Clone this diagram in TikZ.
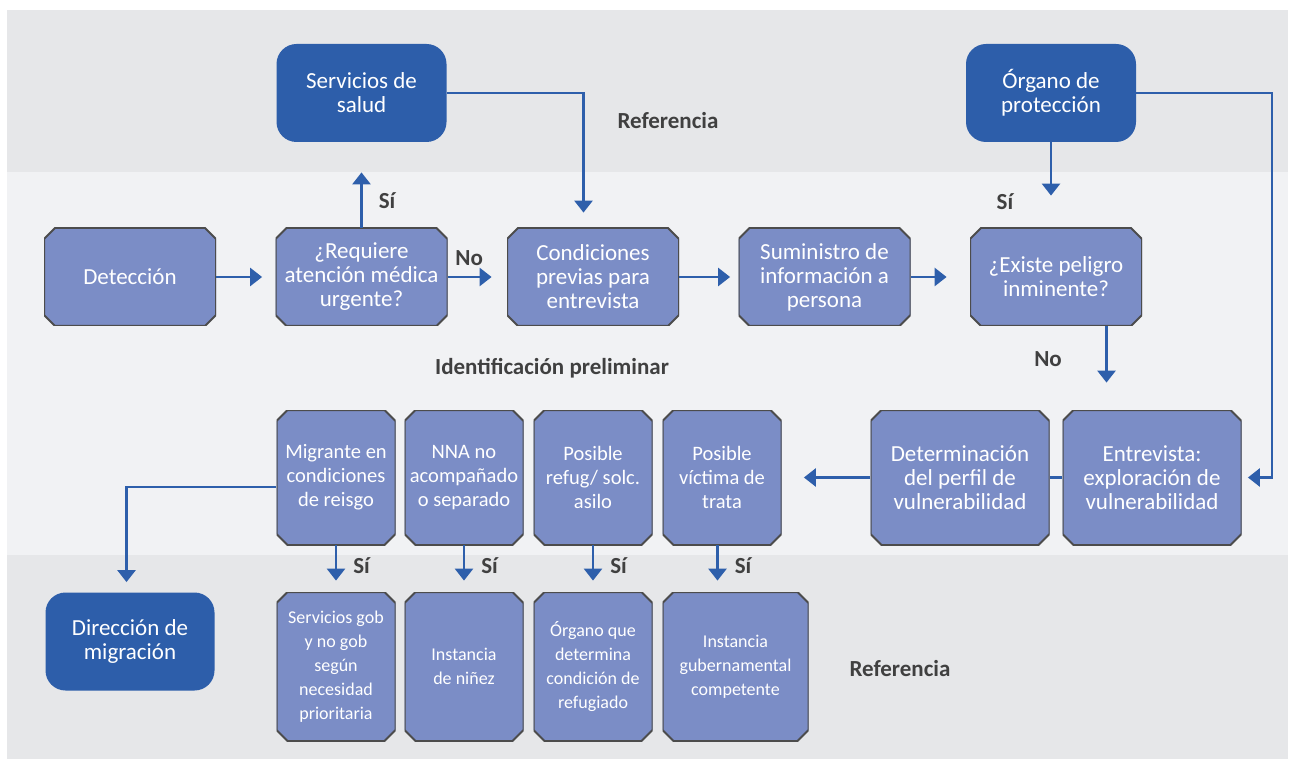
\documentclass[tikz,border=0pt]{standalone}
\usepackage{fontspec}
\setmainfont{Carlito}
\usetikzlibrary{arrows.meta,positioning}

\definecolor{bandgray}{HTML}{E6E7E9}
\definecolor{bandlight}{HTML}{F1F2F4}
\definecolor{procblue}{HTML}{7B8DC6}
\definecolor{refblue}{HTML}{2D5EAA}
\definecolor{linkblue}{HTML}{2E5FAB}
\definecolor{lblgray}{HTML}{404040}

\begin{document}
\begin{tikzpicture}
  [x=0.5pt,y=-0.5pt,on grid,>={Triangle[width=9pt,length=6pt]},
   proc/.style={rectangle,text=white,align=center,inner sep=0pt,
     minimum width=86pt,minimum height=49pt,
     font=\fontsize{11.5}{12}\selectfont,
     path picture={\filldraw[fill=procblue,draw=black!70,line width=1pt]
       ([xshift=5.5pt]path picture bounding box.north west)
       -- ([xshift=-5.5pt]path picture bounding box.north east)
       -- ([yshift=-5.5pt]path picture bounding box.north east)
       -- ([yshift=5.5pt]path picture bounding box.south east)
       -- ([xshift=-5.5pt]path picture bounding box.south east)
       -- ([xshift=5.5pt]path picture bounding box.south west)
       -- ([yshift=5.5pt]path picture bounding box.south west)
       -- ([yshift=-5.5pt]path picture bounding box.north west) -- cycle;}},
   tall proc/.style={proc,minimum width=59.5pt,minimum height=67.5pt,
     font=\fontsize{10.25}{12}\selectfont},
   wide proc/.style={proc,minimum width=89.5pt,minimum height=67.5pt},
   small proc/.style={proc,minimum width=59.5pt,minimum height=74.5pt,
     font=\fontsize{9}{12}\selectfont},
   ref box/.style={rectangle,rounded corners=10pt,fill=refblue,text=white,
     align=center,inner sep=0pt,minimum width=85pt,minimum height=49pt,
     font=\fontsize{11.5}{12}\selectfont},
   link/.style={draw=linkblue,line width=1.35pt},
   arr/.style={link,->},
   lbl/.style={text=lblgray,inner sep=0pt,font=\bfseries\fontsize{11.5}{12}\selectfont}]

  % bands
  \useasboundingbox (0,0) rectangle (1291,759);
  \fill[bandgray]  (7,10)   rectangle (1288,172);
  \fill[bandlight] (7,172)  rectangle (1288,555);
  \fill[bandgray]  (7,555)  rectangle (1288,759);

  % first row
  \node[proc] (det) at (130,277)           {Detección};
  \node[proc] (req)  [right=115.75pt of det]  {¿Requiere\\atención médica\\urgente?};
  \node[proc] (cond) [right=115.75pt of req]  {Condiciones\\previas para\\entrevista};
  \node[proc] (sum)  [right=115.75pt of cond] {Suministro de\\información a\\persona};
  \node[proc] (exi)  [right=115.75pt of sum]  {¿Existe peligro\\inminente?};

  \node[ref box] (salud)  [above=92pt of req]              {Servicios de\\salud};
  \node[ref box] (organo) [above=92pt of exi,xshift=-2.5pt] {Órgano de\\protección};

  % second row
  \node[tall proc] (mig)   [below=100.25pt of req,xshift=-12.75pt] {Migrante en\\condiciones\\de reisgo};
  \node[tall proc] (nna)   [right=64pt of mig]   {NNA no\\acompañado\\o separado};
  \node[tall proc] (refug) [right=64.5pt of nna] {Posible\\refug/ solc.\\asilo};
  \node[tall proc] (vict)  [right=64.5pt of refug] {Posible\\víctima de\\trata};
  \node[wide proc] (perfil) [right=119pt of vict]  {Determinación\\del perfil de\\vulnerabilidad};
  \node[wide proc] (entre)  [right=96pt of perfil] {Entrevista:\\exploración de\\vulnerabilidad};

  % third row
  \node[small proc] (gob)   [below=94.5pt of mig]   {Servicios gob\\y no gob\\según\\necesidad\\prioritaria};
  \node[small proc] (ninez) [below=94.5pt of nna]   {Instancia\\de niñez};
  \node[small proc] (refugiado) [below=94.5pt of refug] {Órgano que\\determina\\condición de\\refugiado};
  \node[small proc,minimum width=73pt] (guber) [below=94.5pt of vict,xshift=6.75pt] {Instancia\\gubernamental\\competente};
  \node[ref box,minimum width=84.5pt] (direc) [below=182.25pt of det] {Dirección de\\migración};

  % connectors
  \draw[arr,shorten >=6.5pt] (det) -- (req);
  \draw[arr,shorten >=7.5pt] (req) -- (cond) node[lbl,midway,above=5pt,xshift=-4pt] {No};
  \draw[arr,shorten >=4pt]   (cond) -- (sum);
  \draw[arr,shorten >=11.5pt] (sum) -- (exi);
  \draw[arr,shorten >=15pt] (req) -- (salud) node[lbl,pos=0.32,right=8pt] {Sí};
  \draw[arr,shorten >=7.5pt] (salud.east) -| ([xshift=-4.75pt]cond.north);

  \draw[arr,shorten >=16pt] (organo) -- (organo |- exi.north);
  \node[lbl] at (1005,202) {Sí};
  \coordinate (exiout) at ([xshift=25.25pt]exi.south);
  \draw[arr,shorten >=13.5pt] (exiout) -- (exiout |- entre.north);
  \node[lbl] at (1048,359) {No};
  \coordinate (rail) at ([xshift=15pt]entre.east);
  \draw[arr,shorten >=3pt] (organo.east) -| (rail) -- (entre.east);

  \draw[link] (entre) -- (perfil);
  \draw[arr,shorten >=11pt] (perfil) -- (vict);
  \coordinate (migout) at ([yshift=-4.75pt]mig.west);
  \draw[arr,shorten >=5pt] (migout) -| ([xshift=-1.75pt]direc.north);

  \draw[arr,shorten >=5.5pt] (mig) -- (gob) node[lbl,pos=0.43,right=8pt] {Sí};
  \draw[arr,shorten >=5.5pt] (nna) -- (ninez) node[lbl,pos=0.43,right=8pt] {Sí};
  \draw[arr,shorten >=5.5pt] (refug) -- (refugiado) node[lbl,pos=0.43,right=8pt] {Sí};
  \coordinate (victout) at ([xshift=-2.25pt]vict.south);
  \draw[arr,shorten >=5.5pt] (victout) -- (victout |- guber.north) node[lbl,pos=0.43,right=8pt] {Sí};

  % band titles
  \node[lbl] at (668,121) {Referencia};
  \node[lbl] at (552,368) {Identificación preliminar};
  \node[lbl] at (900,669) {Referencia};
\end{tikzpicture}
\end{document}
